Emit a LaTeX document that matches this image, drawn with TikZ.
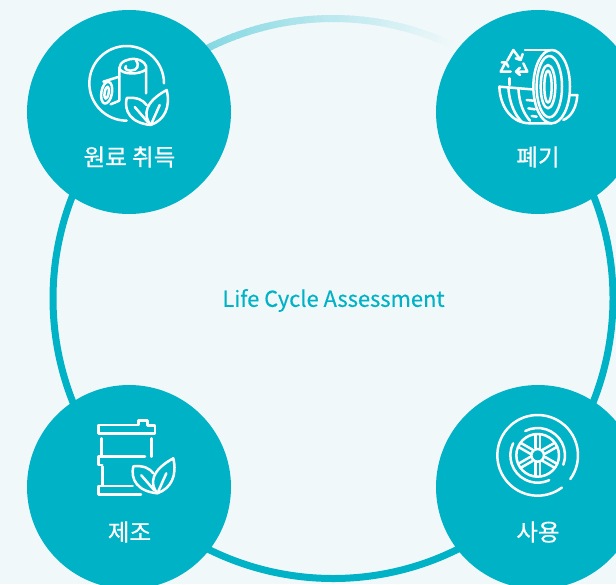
\documentclass[tikz,border=0pt]{standalone}
\usepackage{xcolor}
\usepackage{fontspec}
\setmainfont{Noto Sans CJK KR}
\newfontfamily\stagefont[FakeBold=0.6]{Noto Sans CJK KR}
\newfontfamily\titlefont[FakeBold=0.25]{Noto Sans CJK KR}
\usepackage{tikz}
\definecolor{lcateal}{HTML}{00B2C6}
\definecolor{lcabg}{HTML}{F1F8FA}
\tikzset{
	stage/.style={circle,fill=lcateal,minimum size=204pt,inner sep=0pt,outer sep=0pt},
	stagelabel/.style={text=white,font=\stagefont\fontsize{23.5}{26}\selectfont},
	icon/.style={draw=white,line width=2.5pt,line cap=round,line join=round}
}
\newcommand{\leafpair}[2]{%
	\begin{scope}[shift={(#1,#2)},icon]
		\draw (-4,-20) .. controls (-8,-25) and (-13,-28) .. (-24,-27) .. controls (-27,-14) and (-20,-2) .. (0,0);
		\draw (0,0) .. controls (-8,-10) and (-6,-23) .. (16,-35) .. controls (20,-18) and (14,-5) .. (0,0);
		\draw (-16,-18) -- (-3,-3);
		\draw (9,-20) -- (1,-2);
	\end{scope}}
\begin{document}
\begin{tikzpicture}[x=1pt,y=1pt,yscale=-1]
	\path[use as bounding box,clip] (0,0) rectangle (616,584);
	\fill[lcabg] (0,0) rectangle (616,584);
	% ring
	\draw[lcateal,line width=7pt] (333,298.5) ++(-40:280) arc (-40:220:280);
	\foreach \a in {-140,-139,...,-65}{
		\pgfmathtruncatemacro{\p}{max(0,(-64-\a)*0.85)}
		\draw[lcateal!\p!lcabg,line width=7pt] (333,298.5) ++(\a:280) arc (\a:\a+1.3:280);
	}
	\node[stage] (raw) at (129,112) {};
	\node[stage] (waste) at (538,112) {};
	\node[stage] (make) at (129,487) {};
	\node[stage] (use) at (538,487) {};
	\node[stagelabel] (rawlabel) at (129.5,157) {원료 취득};
	\node[stagelabel] (wastelabel) at (538,157) {폐기};
	\node[stagelabel] (makelabel) at (129.5,532) {제조};
	\node[stagelabel] (uselabel) at (538,532) {사용};
	\node[text=lcateal,font=\titlefont\fontsize{21.9}{24}\selectfont] (title) at (333.5,300.5) {Life Cycle Assessment};
	% raw material
	\begin{scope}[shift={(60,30)},scale=1/3,icon]
		\draw (312,160) arc (0:-270:112);
		\draw (178,210) -- (178,115) .. controls (178,95) and (205,85) .. (225,87) .. controls (250,90) and (262,105) .. (258,118) -- (258,190);
		\draw (178,115) .. controls (185,135) and (240,135) .. (258,118);
		\draw (228,90) .. controls (240,105) and (232,122) .. (212,122) .. controls (200,122) and (192,115) .. (198,108);
		\draw[rotate around={10:(140,188)}] (140,188) ellipse (16 and 33);
		\draw[rotate around={10:(140,188)}] (140,188) ellipse (6 and 18);
		\draw (130,155) -- (178,140);
		\draw (152,223) -- (178,212);
	\end{scope}
	\leafpair{150.7}{125}
	% tyre and recycling
	\begin{scope}[shift={(480,30)},scale=1/3,icon]
		\draw (215,170) ellipse (55 and 110);
		\draw (208,170) ellipse (38 and 92);
		\draw (204,170) ellipse (22 and 65);
		\draw (204,170) ellipse (11 and 48);
		\draw (135,60) -- (215,60);
		\draw (215,280) -- (150,280) .. controls (95,280) and (60,230) .. (58,170) -- (155,178);
		\draw (85,172) .. controls (88,220) and (105,255) .. (125,275);
		\draw (115,175) .. controls (118,220) and (130,250) .. (150,272);
		\draw (88,145) -- (88,165);
		\draw (140,210) -- (160,212);
		\draw (145,235) -- (165,238);
		\draw (155,258) -- (170,260);
		\draw (272,195) -- (292,195) .. controls (290,230) and (275,260) .. (250,270);
		\draw (82,92) -- (100,60) -- (122,90);
		\draw (107,85) -- (122,90) -- (128,72);
		\draw (130,100) -- (142,125) -- (108,125);
		\draw (120,113) -- (108,125) -- (120,135);
		\draw (92,125) -- (62,125) -- (75,100);
		\draw (65,97) -- (78,97) -- (85,110);
	\end{scope}
	% barrel
	\begin{scope}[shift={(70,405)},scale=1/3,icon]
		\draw (205,60) -- (205,47) -- (232,47) -- (232,62) -- (255,62) -- (255,85) -- (85,85) -- (85,60) -- cycle;
		\draw (95,100) -- (95,150);
		\draw (245,100) -- (245,155);
		\draw (225,155) -- (85,155) -- (85,180) -- (97,180);
		\draw (97,185) -- (97,240);
		\draw (188,243) -- (85,243) -- (85,268) -- (213,268);
	\end{scope}
	\leafpair{157.3}{493.3}
	% wheel
	\begin{scope}[shift={(480,400)},scale=1/3,icon]
		\draw (173,166) ++(36:121) arc (36:-307:121);
		\draw (173,166) ++(-117:82) arc (-117:20:82);
		\draw (173,166) ++(206:82) arc (206:65:82);
		\draw (173,166) circle (64);
		\draw (173,166) circle (19);
		\foreach \s in {-90,-30,30,90,150,210}{
			\begin{scope}[rotate around={\s:(173,166)}]
				\draw (195,159) -- (236,159);
				\draw (195,173) -- (236,173);
			\end{scope}
		}
	\end{scope}
\end{tikzpicture}
\end{document}
